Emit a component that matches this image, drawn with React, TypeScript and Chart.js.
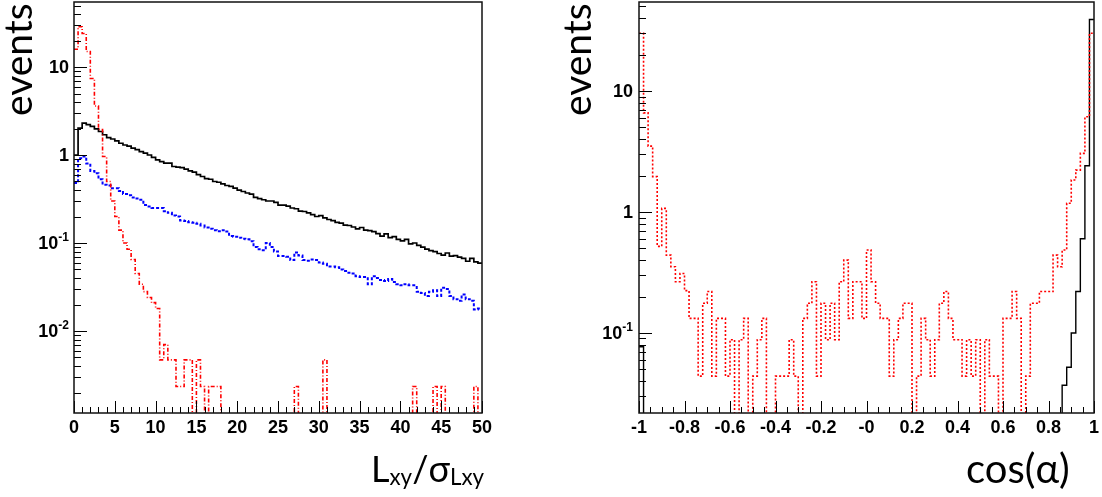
import React, { useEffect, useRef } from 'react';
import { Chart, registerables } from 'chart.js';

Chart.register(...registerables);

// ---------------- Left panel: Lxy / sigma(Lxy), 100 bins on [0, 50] ----------------
const LEFT_X_RANGE = [0, 50];
const LEFT_Y_RANGE = [0.00117, 54.8];

const leftBlack = [
  1.0, 2.02, 2.3, 2.22, 2.12, 1.98, 1.85, 1.7, 1.58, 1.52,
  1.45, 1.36, 1.3, 1.26, 1.2, 1.15, 1.09, 1.05, 1.0, 0.94,
  0.88, 0.84, 0.81, 0.81, 0.74, 0.73, 0.72, 0.69, 0.66, 0.64,
  0.6, 0.57, 0.54, 0.53, 0.5, 0.49, 0.47, 0.45, 0.44, 0.42,
  0.4, 0.385, 0.37, 0.36, 0.33, 0.32, 0.31, 0.3, 0.3, 0.29,
  0.27, 0.27, 0.262, 0.25, 0.245, 0.23, 0.228, 0.22, 0.21, 0.2,
  0.205, 0.193, 0.185, 0.18, 0.172, 0.168, 0.16, 0.158, 0.152, 0.145,
  0.15, 0.14, 0.138, 0.135, 0.128, 0.12, 0.127, 0.115, 0.118, 0.11,
  0.106, 0.11, 0.098, 0.1, 0.094, 0.09, 0.085, 0.082, 0.08, 0.076,
  0.073, 0.077, 0.071, 0.072, 0.069, 0.067, 0.062, 0.067, 0.061, 0.059,
];

const leftBlue = [
  0.48, 0.92, 0.96, 0.8, 0.66, 0.62, 0.53, 0.46, 0.45, 0.42,
  0.42, 0.39, 0.36, 0.35, 0.33, 0.32, 0.31, 0.27, 0.26, 0.25,
  0.25, 0.25, 0.23, 0.22, 0.205, 0.2, 0.18, 0.178, 0.172, 0.17,
  0.165, 0.158, 0.15, 0.145, 0.14, 0.136, 0.14, 0.135, 0.12, 0.118,
  0.115, 0.112, 0.11, 0.105, 0.09, 0.085, 0.083, 0.1, 0.09, 0.08,
  0.071, 0.071, 0.07, 0.064, 0.078, 0.072, 0.064, 0.063, 0.065, 0.064,
  0.06, 0.058, 0.054, 0.054, 0.053, 0.05, 0.048, 0.046, 0.045, 0.042,
  0.041, 0.041, 0.034, 0.042, 0.04, 0.038, 0.037, 0.039, 0.036, 0.034,
  0.033, 0.034, 0.033, 0.033, 0.028, 0.027, 0.025, 0.028, 0.029, 0.025,
  0.031, 0.03, 0.025, 0.023, 0.022, 0.026, 0.023, 0.022, 0.0176, 0.018,
];

const leftRed = [
  15.9, 28.7, 24, 15, 7.4, 3.6, 1.95, 0.96, 0.5, 0.3,
  0.2, 0.14, 0.1, 0.085, 0.065, 0.045, 0.034, 0.028, 0.024, 0.021,
  0.018, 0.0047, 0.007, 0.0047, 0.0047, 0.00234, 0.00234, 0.0047, 0.0047, 0,
  0.0047, 0.00234, 0, 0.00234, 0.00234, 0.00234, 0, 0, 0, 0,
  0, 0, 0, 0, 0, 0, 0, 0, 0, 0,
  0, 0, 0, 0, 0.00234, 0, 0, 0, 0, 0,
  0, 0.0047, 0, 0, 0, 0, 0, 0, 0, 0,
  0, 0, 0, 0, 0, 0, 0, 0, 0, 0,
  0, 0, 0, 0.00234, 0, 0, 0, 0, 0.00234, 0,
  0.00234, 0, 0, 0, 0, 0, 0, 0, 0.00234, 0,
];

const LEFT_X_TICKS = [0, 5, 10, 15, 20, 25, 30, 35, 40, 45, 50];
const LEFT_X_TICK_LABELS = ['0', '5', '10', '15', '20', '25', '30', '35', '40', '45', '50'];
const LEFT_Y_TICKS = [0.01, 0.1, 1, 10];
const LEFT_Y_TICK_LABELS = ['10^-2', '10^-1', '1', '10'];

// ---------------- Right panel: cos(alpha), 100 bins on [-1, 1] ----------------
const RIGHT_X_RANGE = [-1, 1];
const RIGHT_Y_RANGE = [0.0218, 54.4];

const rightBlack = [
  0.077, 0, 0, 0, 0, 0, 0, 0, 0, 0,
  0, 0, 0, 0, 0, 0, 0, 0, 0, 0,
  0, 0, 0, 0, 0, 0, 0, 0, 0, 0,
  0, 0, 0, 0, 0, 0, 0, 0, 0, 0,
  0, 0, 0, 0, 0, 0, 0, 0, 0, 0,
  0, 0, 0, 0, 0, 0, 0, 0, 0, 0,
  0, 0, 0, 0, 0, 0, 0, 0, 0, 0,
  0, 0, 0, 0, 0, 0, 0, 0, 0, 0,
  0, 0, 0, 0, 0, 0, 0, 0, 0, 0,
  0, 0, 0, 0.037, 0.052, 0.1, 0.22, 0.6, 2.41, 39,
];

const rightRed = [
  30, 6.6, 3.5, 1.96, 0.52, 1.07, 0.44, 0.353, 0.265, 0.31,
  0.224, 0.132, 0.132, 0.044, 0.176, 0.22, 0.044, 0.132, 0.132, 0.044,
  0.088, 0, 0.088, 0.132, 0, 0.044, 0.088, 0.132, 0, 0,
  0.044, 0.044, 0.044, 0.088, 0.044, 0, 0.132, 0.176, 0.265, 0.044,
  0.176, 0.088, 0.176, 0.088, 0.265, 0.4, 0.132, 0.265, 0.265, 0.132,
  0.485, 0.265, 0.176, 0.132, 0.132, 0.044, 0.088, 0.132, 0.176, 0.176,
  0, 0.044, 0.132, 0.088, 0.044, 0.088, 0.176, 0.22, 0.132, 0.088,
  0.088, 0.044, 0.088, 0.044, 0.088, 0, 0.088, 0.044, 0.044, 0,
  0.132, 0.132, 0.22, 0.132, 0, 0.044, 0.176, 0.176, 0.22, 0.22,
  0.22, 0.44, 0.353, 0.485, 1.18, 1.84, 2.22, 3.05, 6.13, 30,
];

const RIGHT_X_TICKS = [-1, -0.8, -0.6, -0.4, -0.2, 0, 0.2, 0.4, 0.6, 0.8, 1];
const RIGHT_X_TICK_LABELS = ['-1', '-0.8', '-0.6', '-0.4', '-0.2', '-0', '0.2', '0.4', '0.6', '0.8', '1'];
const RIGHT_Y_TICKS = [0.1, 1, 10];
const RIGHT_Y_TICK_LABELS = ['10^-1', '1', '10'];

// ---------------- helpers ----------------
const ZERO_FLOOR = 1e-9; // empty bins are drawn down past the frame (clipped)
const FONT_FAMILY = '"Liberation Sans", Arial, Helvetica, sans-serif';

function histPoints(values: number[], range: number[]) {
  const [xMin, xMax] = range;
  const w = (xMax - xMin) / values.length;
  const pts = values.map((v, i) => ({ x: xMin + i * w, y: v > 0 ? v : ZERO_FLOOR }));
  const last = values[values.length - 1];
  pts.push({ x: xMax, y: last > 0 ? last : ZERO_FLOOR });
  return pts;
}

// ROOT-like frame: inward ticks + box + y labels with real superscripts
const rootFrame = {
  id: 'rootFrame',
  afterDatasetsDraw(chart: any, _args: any, opts: any) {
    const { ctx, chartArea: a } = chart;
    const xs = chart.scales.x;
    const ys = chart.scales.y;
    ctx.save();
    ctx.beginPath();
    ctx.strokeStyle = '#000';
    ctx.lineWidth = 1;
    const n = Math.round((xs.max - xs.min) / opts.xMinor);
    const per = Math.round(opts.xMajor / opts.xMinor);
    for (let i = 0; i <= n; i++) {
      const px = Math.round(xs.getPixelForValue(xs.min + i * opts.xMinor)) + 0.5;
      const len = i % per === 0 ? opts.xMajorLen : opts.xMinorLen;
      ctx.moveTo(px, a.bottom);
      ctx.lineTo(px, a.bottom - len);
    }
    const e0 = Math.floor(Math.log10(ys.min));
    const e1 = Math.ceil(Math.log10(ys.max));
    for (let e = e0; e <= e1; e++) {
      for (let k = 1; k <= 9; k++) {
        const v = k * Math.pow(10, e);
        if (v < ys.min || v > ys.max) continue;
        const py = Math.round(ys.getPixelForValue(v)) + 0.5;
        const len = k === 1 ? opts.yMajorLen : opts.yMinorLen;
        ctx.moveTo(a.left, py);
        ctx.lineTo(a.left + len, py);
      }
    }
    ctx.stroke();
    ctx.lineWidth = 1.5;
    ctx.strokeStyle = '#111';
    ctx.strokeRect(a.left, a.top, a.right - a.left, a.bottom - a.top);

    // y tick labels
    ctx.fillStyle = '#000';
    ctx.textBaseline = 'middle';
    ctx.textAlign = 'left';
    const right = a.left - opts.yLabelGap;
    opts.yTicks.forEach((v: number, i: number) => {
      const py = ys.getPixelForValue(v);
      const [base, exp] = String(opts.yLabels[i]).split('^');
      ctx.font = `bold 18px ${FONT_FAMILY}`;
      const wb = ctx.measureText(base).width;
      let we = 0;
      if (exp) {
        ctx.font = `bold 12px ${FONT_FAMILY}`;
        we = ctx.measureText(exp).width;
      }
      const x0 = right - wb - we;
      ctx.font = `bold 18px ${FONT_FAMILY}`;
      ctx.fillText(base, x0, py + 1);
      if (exp) {
        ctx.font = `bold 12px ${FONT_FAMILY}`;
        ctx.fillText(exp, x0 + wb, py - 5);
      }
    });
    ctx.restore();
  },
};

const TICK_FONT = { family: FONT_FAMILY, size: 18, weight: 'bold' as const };

function zeroPad(s: any) {
  s.paddingTop = 0;
  s.paddingBottom = 0;
  s.paddingLeft = 0;
  s.paddingRight = 0;
}

function makeConfig(p: {
  datasets: any[];
  xRange: number[];
  yRange: number[];
  xTicks: number[];
  xLabels: string[];
  yTicks: number[];
  yLabels: string[];
  yAxisWidth: number;
  padRight: number;
  yLabelGap: number;
  xMinor: number;
  xMajor: number;
}) {
  return {
    type: 'line' as const,
    data: { datasets: p.datasets },
    plugins: [rootFrame],
    options: {
      animation: false as const,
      responsive: false,
      devicePixelRatio: 1,
      events: [] as any[],
      layout: { autoPadding: false, padding: { left: 0, top: 2, right: p.padRight, bottom: 0 } },
      elements: { point: { radius: 0 }, line: { tension: 0 } },
      plugins: {
        legend: { display: false },
        tooltip: { enabled: false },
        rootFrame: {
          xMinor: p.xMinor,
          xMajor: p.xMajor,
          xMajorLen: 12,
          xMinorLen: 6,
          yMajorLen: 13,
          yMinorLen: 7,
          yTicks: p.yTicks,
          yLabels: p.yLabels,
          yLabelGap: p.yLabelGap,
        },
      },
      scales: {
        x: {
          type: 'linear' as const,
          min: p.xRange[0],
          max: p.xRange[1],
          afterFit: (s: any) => {
            s.height = 84;
            zeroPad(s);
          },
          afterBuildTicks: (s: any) => {
            s.ticks = p.xTicks.map((v) => ({ value: v }));
          },
          grid: { display: false, drawTicks: false },
          border: { display: false },
          ticks: {
            autoSkip: false,
            maxRotation: 0,
            padding: 4,
            color: '#000',
            font: TICK_FONT,
            callback: (_v: any, i: number) => p.xLabels[i],
          },
        },
        y: {
          type: 'logarithmic' as const,
          min: p.yRange[0],
          max: p.yRange[1],
          afterFit: (s: any) => {
            s.width = p.yAxisWidth;
            zeroPad(s);
          },
          afterBuildTicks: (s: any) => {
            s.ticks = p.yTicks.map((v) => ({ value: v }));
          },
          grid: { display: false, drawTicks: false },
          border: { display: false },
          ticks: { display: false },
        },
      },
    },
  };
}

const titleFont = 'Lato, "Open Sans", "DejaVu Sans", sans-serif';

export default function App() {
  const leftRef = useRef<HTMLCanvasElement | null>(null);
  const rightRef = useRef<HTMLCanvasElement | null>(null);

  useEffect(() => {
    const left = new Chart(
      leftRef.current as HTMLCanvasElement,
      makeConfig({
        datasets: [
          {
            data: histPoints(leftRed, LEFT_X_RANGE),
            borderColor: '#ff0000',
            borderWidth: 1.6,
            borderDash: [4, 2, 1, 2],
            stepped: 'before',
            fill: false,
          },
          {
            data: histPoints(leftBlue, LEFT_X_RANGE),
            borderColor: '#0000ff',
            borderWidth: 2,
            borderDash: [3, 2],
            stepped: 'before',
            fill: false,
          },
          {
            data: histPoints(leftBlack, LEFT_X_RANGE),
            borderColor: '#000000',
            borderWidth: 1.7,
            stepped: 'before',
            fill: false,
          },
        ],
        xRange: LEFT_X_RANGE,
        yRange: LEFT_Y_RANGE,
        xTicks: LEFT_X_TICKS,
        xLabels: LEFT_X_TICK_LABELS,
        yTicks: LEFT_Y_TICKS,
        yLabels: LEFT_Y_TICK_LABELS,
        yAxisWidth: 74,
        padRight: 551 - 482,
        yLabelGap: 5,
        xMinor: 1,
        xMajor: 5,
      }) as any
    );
    const right = new Chart(
      rightRef.current as HTMLCanvasElement,
      makeConfig({
        datasets: [
          {
            data: histPoints(rightRed, RIGHT_X_RANGE),
            borderColor: '#ff0000',
            borderWidth: 1.6,
            borderDash: [2, 2],
            stepped: 'before',
            fill: false,
          },
          {
            data: histPoints(rightBlack, RIGHT_X_RANGE),
            borderColor: '#000000',
            borderWidth: 1.4,
            stepped: 'before',
            fill: false,
          },
        ],
        xRange: RIGHT_X_RANGE,
        yRange: RIGHT_Y_RANGE,
        xTicks: RIGHT_X_TICKS,
        xLabels: RIGHT_X_TICK_LABELS,
        yTicks: RIGHT_Y_TICKS,
        yLabels: RIGHT_Y_TICK_LABELS,
        yAxisWidth: 88,
        padRight: 8,
        yLabelGap: 6,
        xMinor: 0.05,
        xMajor: 0.2,
      }) as any
    );
    return () => {
      left.destroy();
      right.destroy();
    };
  }, []);

  const yTitle = (left: number): React.CSSProperties => ({
    position: 'absolute',
    left,
    top: 116,
    transformOrigin: '0 0',
    transform: 'rotate(-90deg)',
    fontFamily: titleFont,
    fontSize: 39,
    lineHeight: '39px',
    whiteSpace: 'nowrap',
    color: '#000',
  });
  const sub: React.CSSProperties = { fontSize: '0.62em', position: 'relative', top: '0.12em' };

  return (
    <div
      style={{
        position: 'absolute',
        left: 0,
        top: 0,
        width: 1102,
        height: 497,
        background: '#fff',
        overflow: 'hidden',
      }}
    >
      <canvas ref={leftRef} width={551} height={497} style={{ position: 'absolute', left: 0, top: 0 }} />
      <canvas ref={rightRef} width={551} height={497} style={{ position: 'absolute', left: 551, top: 0 }} />
      <div style={yTitle(-2)}>events</div>
      <div style={yTitle(557)}>events</div>
      <div
        style={{
          position: 'absolute',
          left: 371,
          top: 450,
          fontFamily: titleFont,
          fontSize: 36,
          lineHeight: '36px',
          whiteSpace: 'nowrap',
          color: '#000',
        }}
      >
        L<span style={sub}>xy</span>/σ<span style={sub}>Lxy</span>
      </div>
      <div
        style={{
          position: 'absolute',
          left: 966,
          top: 448,
          fontFamily: titleFont,
          fontSize: 40,
          lineHeight: '40px',
          whiteSpace: 'nowrap',
          color: '#000',
        }}
      >
        cos(α)
      </div>
    </div>
  );
}
